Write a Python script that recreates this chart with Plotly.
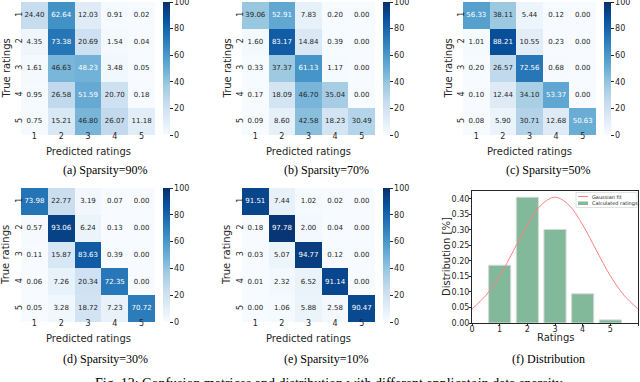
import plotly.graph_objects as go
import plotly.express as px_mod

W, H = 640, 382

ratings = [1, 2, 3, 4, 5]

cm_90 = [[24.40, 62.64, 12.03, 0.91, 0.02],
         [4.35, 73.38, 20.69, 1.54, 0.04],
         [1.61, 46.63, 48.23, 3.48, 0.05],
         [0.95, 26.58, 51.59, 20.70, 0.18],
         [0.75, 15.21, 46.80, 26.07, 11.18]]
cm_70 = [[39.06, 52.91, 7.83, 0.20, 0.00],
         [1.60, 83.17, 14.84, 0.39, 0.00],
         [0.33, 37.37, 61.13, 1.17, 0.00],
         [0.17, 18.09, 46.70, 35.04, 0.00],
         [0.09, 8.60, 42.58, 18.23, 30.49]]
cm_50 = [[56.33, 38.11, 5.44, 0.12, 0.00],
         [1.01, 88.21, 10.55, 0.23, 0.00],
         [0.20, 26.57, 72.56, 0.68, 0.00],
         [0.10, 12.44, 34.10, 53.37, 0.00],
         [0.08, 5.90, 30.71, 12.68, 50.63]]
cm_30 = [[73.98, 22.77, 3.19, 0.07, 0.00],
         [0.57, 93.06, 6.24, 0.13, 0.00],
         [0.11, 15.87, 83.63, 0.39, 0.00],
         [0.06, 7.26, 20.34, 72.35, 0.00],
         [0.05, 3.28, 18.72, 7.23, 70.72]]
cm_10 = [[91.51, 7.44, 1.02, 0.02, 0.00],
         [0.18, 97.78, 2.00, 0.04, 0.00],
         [0.03, 5.07, 94.77, 0.12, 0.00],
         [0.01, 2.32, 6.52, 91.14, 0.00],
         [0.00, 1.06, 5.88, 2.58, 90.47]]

captions = ["(a) Sparsity=90%", "(b) Sparsity=70%", "(c) Sparsity=50%",
            "(d) Sparsity=30%", "(e) Sparsity=10%", "(f) Distribution"]
fig_caption = "Fig. 12: Confusion matrices and distribution with different applicatoin data sparsity."

# distribution panel
dist_ratings = [1, 2, 3, 4, 5]
dist_values = [0.186, 0.405, 0.301, 0.094, 0.010]
fit_x = [0, 0.5, 1, 1.5, 2, 2.5, 3, 3.5, 4, 4.5, 5, 5.5, 6]
fit_y = [0.045, 0.089, 0.152, 0.233, 0.316, 0.380, 0.405, 0.380, 0.316, 0.233, 0.152, 0.089, 0.045]


def px(x):
    return x / W


def py(y):
    return 1 - y / H


TXT = "#262626"
FONT = "DejaVu Sans"
SERIF = "Liberation Serif"
GREEN = "rgb(130,185,154)"
RED = "rgb(255,128,128)"

# pixel boxes of the heatmaps: left, right, top, bottom
boxes = [(21, 155, 2, 135), (242, 375, 2, 135), (463, 596, 2, 135),
         (21, 155, 188, 322), (242, 375, 188, 322)]
matrices = [cm_90, cm_70, cm_50, cm_30, cm_10]
caption_x = [105, 326, 548, 105, 326, 548]
caption_y = [170, 170, 170, 359, 359, 359]


def note(text, x, y, size=10, angle=0, family=FONT, color=TXT, xanchor="center"):
    return dict(text=text, x=px(x), y=py(y), xref="paper", yref="paper",
                xanchor=xanchor, yanchor="middle", showarrow=False, textangle=angle,
                font=dict(size=size, color=color, family=family))


fig = go.Figure()
annotations = []
shapes = []

for i, (cm, (l, r, t, b)) in enumerate(zip(matrices, boxes)):
    n = i + 1
    xa = "x" if n == 1 else f"x{n}"
    ya = "y" if n == 1 else f"y{n}"
    fig.add_trace(go.Heatmap(
        z=cm, x=ratings, y=ratings, xaxis=xa, yaxis=ya,
        colorscale=px_mod.colors.sequential.Blues, zmin=0, zmax=100,
        colorbar=dict(x=px(r + 8), xanchor="left", y=py(t), yanchor="top",
                      len=b - t, lenmode="pixels", thickness=7,
                      xpad=0, ypad=0, outlinewidth=0,
                      ticks="outside", ticklen=3, tickcolor=TXT,
                      ticklabeloverflow="allow",
                      tickvals=[0, 20, 40, 60, 80, 100],
                      tickfont=dict(size=8, color=TXT, family=FONT)),
        hoverinfo="skip",
    ))
    xs, ys, texts, colors = [], [], [], []
    for ri, row in enumerate(cm):
        for ci, v in enumerate(row):
            xs.append(ratings[ci])
            ys.append(ratings[ri])
            texts.append(f"{v:.2f}")
            colors.append("white" if v > 47.5 else TXT)
    fig.add_trace(go.Scatter(
        x=xs, y=ys, text=texts, mode="text", xaxis=xa, yaxis=ya,
        textfont=dict(size=7, color=colors, family=FONT),
        showlegend=False, hoverinfo="skip",
    ))
    fig.layout[f"xaxis{n if n > 1 else ''}"] = dict(
        domain=[px(l), px(r)], anchor=ya, range=[0.5, 5.5],
        tickvals=ratings, ticks="", showgrid=False, zeroline=False,
        ticklabelstandoff=-5, automargin=False,
        tickfont=dict(size=8, color=TXT, family=FONT))
    fig.layout[f"yaxis{n if n > 1 else ''}"] = dict(
        domain=[py(b), py(t)], anchor=xa, range=[5.5, 0.5],
        tickvals=ratings, ticks="", showgrid=False, zeroline=False,
        ticklabelstandoff=-4, automargin=False,
        tickangle=-90, tickfont=dict(size=8, color=TXT, family=FONT))
    annotations.append(note("Predicted ratings", (l + r) / 2, b + 16))
    annotations.append(note("True ratings", l - 15, (t + b) / 2, angle=-90))

# (f) distribution
fig.add_trace(go.Scatter(
    x=fit_x, y=fit_y, mode="lines", name="Gaussian fit",
    line=dict(color=RED, width=1, shape="spline"),
    xaxis="x6", yaxis="y6", showlegend=False,
))
fig.add_trace(go.Bar(
    x=dist_ratings, y=dist_values, name="Calculated ratings", width=0.8,
    marker=dict(color=GREEN, line=dict(color="#d8d8d8", width=1)),
    xaxis="x6", yaxis="y6", showlegend=False,
))
fig.layout.xaxis6 = dict(
    domain=[px(472), px(638)], anchor="y6", range=[0, 6], dtick=1,
    ticks="outside", ticklen=2, tickcolor=TXT, showgrid=False, zeroline=False,
    showline=True, mirror=True, linecolor=TXT, linewidth=1, automargin=False,
    ticklabelstandoff=-4,
    tickfont=dict(size=8, color=TXT, family=FONT))
fig.layout.yaxis6 = dict(
    domain=[py(323), py(191)], anchor="x6", range=[0, 0.425], dtick=0.05,
    tickformat=".2f", ticks="outside", ticklen=2, tickcolor=TXT,
    showgrid=False, zeroline=False, automargin=False,
    showline=True, mirror=True, linecolor=TXT, linewidth=1,
    ticklabelstandoff=-2,
    tickfont=dict(size=8, color=TXT, family=FONT))
annotations.append(note("Ratings", 555, 337))
annotations.append(note("Distribution [%]", 446, 257, angle=-90))

# small legend box in the top right of (f)
shapes.append(dict(type="rect", xref="paper", yref="paper",
                   x0=px(576), x1=px(637), y0=py(207.5), y1=py(192.5),
                   line=dict(color="#cccccc", width=0.6), fillcolor="white"))
shapes.append(dict(type="line", xref="paper", yref="paper",
                   x0=px(578), x1=px(588), y0=py(196.5), y1=py(196.5),
                   line=dict(color=RED, width=1)))
shapes.append(dict(type="rect", xref="paper", yref="paper",
                   x0=px(578), x1=px(588), y0=py(205), y1=py(201.5),
                   line=dict(width=0), fillcolor=GREEN))
annotations.append(note("Gaussian fit", 590, 196.5, size=5, xanchor="left"))
annotations.append(note("Calculated ratings", 590, 203.3, size=5, xanchor="left"))

# sub-captions and figure caption
for cap, cx, cy in zip(captions, caption_x, caption_y):
    annotations.append(note(cap, cx, cy, size=12, family=SERIF, color="black"))
annotations.append(note(fig_caption, 93, 383, size=14, family=SERIF, color="black",
                        xanchor="left"))

fig.update_layout(
    width=W, height=H, margin=dict(l=0, r=0, t=0, b=0, autoexpand=False),
    paper_bgcolor="white", plot_bgcolor="white",
    font=dict(family=FONT, color=TXT),
    annotations=annotations, shapes=shapes,
    showlegend=False,
)

# the page body has a default 8px margin; drop it so the figure sits at the corner
fig.write_html("out.html", config={"displayModeBar": False},
               post_script="document.body.style.margin = '0';")
